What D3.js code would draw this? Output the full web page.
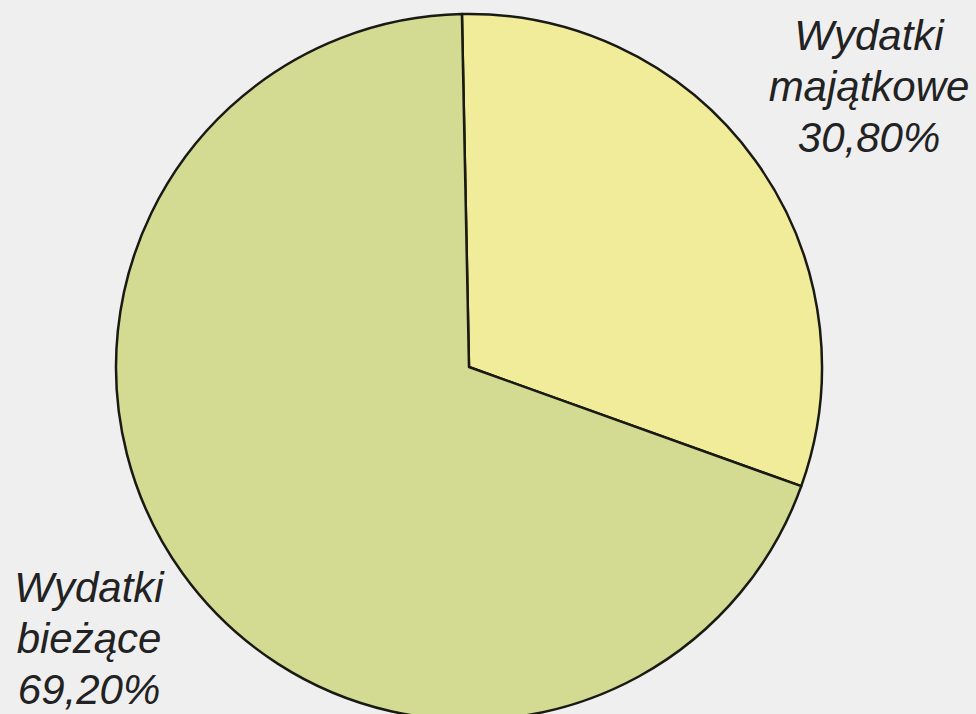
<!DOCTYPE html>
<html>
<head>
<meta charset="utf-8">
<script src="https://cdn.jsdelivr.net/npm/d3@7"></script>
<style>
  html, body { margin: 0; padding: 0; background: #efeff0; }
  svg { display: block; }
  .lbl { font-family: "Liberation Sans", Arial, sans-serif; font-style: italic; font-size: 42px; fill: #222; }
</style>
</head>
<body>
<div id="chart"></div>
<script>
// data
const categories = ["Wydatki majątkowe", "Wydatki bieżące"];
const values = [30.8, 69.2];
const labelLines = [["Wydatki", "majątkowe", "30,80%"], ["Wydatki", "bieżące", "69,20%"]];
const colors = ["#f1ec9a", "#d3db93"];

const width = 976, height = 714;
const cx = 469, cy = 367, radius = 353;

const svg = d3.select("#chart")
  .append("svg")
  .attr("width", width)
  .attr("height", height);

const pie = d3.pie().sort(null).startAngle(-0.02).endAngle(2 * Math.PI - 0.02);
const arcs = pie(values);
const arc = d3.arc().innerRadius(0).outerRadius(radius);

const g = svg.append("g").attr("transform", "translate(" + cx + "," + cy + ")");

g.selectAll("path.slice")
  .data(arcs)
  .enter().append("path")
  .attr("class", "slice")
  .attr("d", arc)
  .attr("fill", (d, i) => colors[i])
  .attr("stroke", "#1a1a14")
  .attr("stroke-width", 2.5)
  .attr("stroke-linejoin", "round");

// label anchors (outside the pie)
const labelPos = [{x: 869, y: 50}, {x: 89, y: 602}];

svg.selectAll("text.lbl")
  .data(labelLines)
  .enter().append("text")
  .attr("class", "lbl")
  .attr("text-anchor", "middle")
  .attr("transform", (d, i) => "translate(" + labelPos[i].x + "," + labelPos[i].y + ")")
  .selectAll("tspan")
  .data(d => d)
  .enter().append("tspan")
  .attr("x", 0)
  .attr("y", (d, i) => i * 51)
  .text(d => d);
</script>
</body>
</html>
